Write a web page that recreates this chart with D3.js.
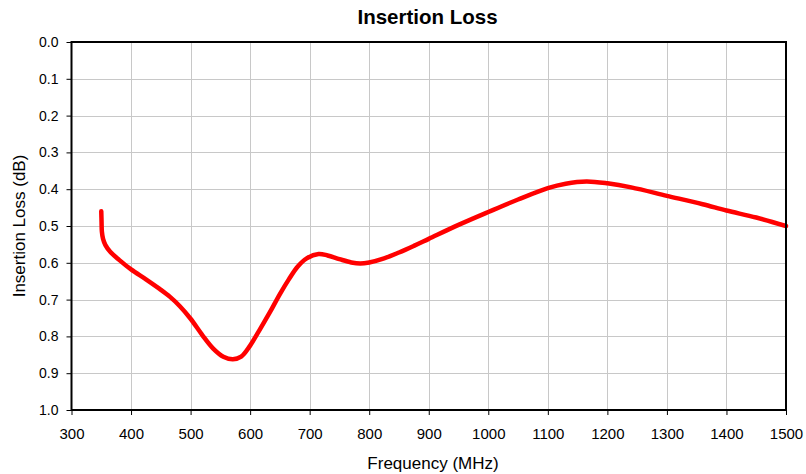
<!DOCTYPE html>
<html>
<head>
<meta charset="utf-8">
<script src="https://cdn.jsdelivr.net/npm/d3@7"></script>
<style>
  html, body { margin: 0; padding: 0; background: #fff; }
  svg { display: block; font-family: "Liberation Sans", Arial, sans-serif; }
</style>
</head>
<body>
<svg id="chart" width="806" height="474"></svg>
<script>
const frequency = [350, 350.5, 351, 353, 357, 365, 380, 400, 425, 448, 465, 482, 500, 520, 538, 555, 571, 585,
  600, 615, 633, 650, 665, 680, 695, 715, 730, 750, 770, 785, 800, 825, 850, 875, 900, 950, 1000, 1050,
  1100, 1130, 1165, 1200, 1240, 1300, 1360, 1400, 1450, 1500];
const insertionLoss = [0.46, 0.49, 0.515, 0.535, 0.552, 0.57, 0.592, 0.618, 0.645, 0.671, 0.692, 0.718, 0.752, 0.797, 0.833, 0.855, 0.862, 0.855,
  0.825, 0.785, 0.735, 0.685, 0.645, 0.61, 0.588, 0.576, 0.58, 0.59, 0.599, 0.602, 0.599, 0.588, 0.572, 0.554, 0.535, 0.497, 0.462, 0.428,
  0.397, 0.385, 0.379, 0.384, 0.395, 0.418, 0.441, 0.458, 0.477, 0.5];
const xTicks = [300, 400, 500, 600, 700, 800, 900, 1000, 1100, 1200, 1300, 1400, 1500];
const yTicks = [0.0, 0.1, 0.2, 0.3, 0.4, 0.5, 0.6, 0.7, 0.8, 0.9, 1.0];

const svg = d3.select("#chart");
const m = { left: 71.5, right: 786, top: 42, bottom: 410 };

const x = d3.scaleLinear().domain([300, 1500]).range([m.left, m.right]);
const y = d3.scaleLinear().domain([0, 1]).range([m.top, m.bottom]);

// grid
svg.append("g").selectAll("line").data(xTicks.slice(1, -1)).join("line")
  .attr("x1", d => Math.round(x(d)) + 0.5).attr("x2", d => Math.round(x(d)) + 0.5)
  .attr("y1", m.top).attr("y2", m.bottom)
  .attr("stroke", "#c8c8c8").attr("stroke-width", 1);
svg.append("g").selectAll("line").data(yTicks.slice(1, -1)).join("line")
  .attr("y1", d => Math.round(y(d)) + 0.5).attr("y2", d => Math.round(y(d)) + 0.5)
  .attr("x1", m.left).attr("x2", m.right)
  .attr("stroke", "#c8c8c8").attr("stroke-width", 1);

// axes
const xAxis = svg.append("g").attr("transform", `translate(0,${m.bottom})`)
  .call(d3.axisBottom(x).tickValues(xTicks).tickFormat(d3.format("d")).tickSizeOuter(0).tickSize(5).tickPadding(13));
const yAxis = svg.append("g").attr("transform", `translate(${m.left},0)`)
  .call(d3.axisLeft(y).tickValues(yTicks).tickFormat(d3.format(".1f")).tickSizeOuter(0).tickSize(5).tickPadding(8));
[xAxis, yAxis].forEach(a => {
  a.select(".domain").remove();
  a.selectAll(".tick line").attr("stroke", "#000").attr("stroke-width", 1);
  a.selectAll("text").attr("fill", "#000")
    .attr("font-family", "'Liberation Sans', Arial, sans-serif");
});
xAxis.selectAll("text").attr("font-size", 15);
yAxis.selectAll("text").attr("font-size", 14);

// line
const line = d3.line().x((d, i) => x(frequency[i])).y(d => y(d)).curve(d3.curveCatmullRom.alpha(0.5));
svg.append("path").datum(insertionLoss).attr("d", line)
  .attr("fill", "none").attr("stroke", "#ff0000").attr("stroke-width", 4.5)
  .attr("stroke-linecap", "round").attr("stroke-linejoin", "round");

// frame
svg.append("rect").attr("x", m.left).attr("y", m.top)
  .attr("width", m.right - m.left).attr("height", m.bottom - m.top)
  .attr("fill", "none").attr("stroke", "#000").attr("stroke-width", 2);

// titles
svg.append("text").attr("x", 427.5).attr("y", 24)
  .attr("text-anchor", "middle").attr("font-size", 20.5).attr("font-weight", "bold")
  .text("Insertion Loss");
svg.append("text").attr("x", 433).attr("y", 469)
  .attr("text-anchor", "middle").attr("font-size", 17).text("Frequency (MHz)");
svg.append("text").attr("transform", `translate(25,${(m.top + m.bottom) / 2}) rotate(-90)`)
  .attr("text-anchor", "middle").attr("font-size", 17).text("Insertion Loss (dB)");
</script>
</body>
</html>
